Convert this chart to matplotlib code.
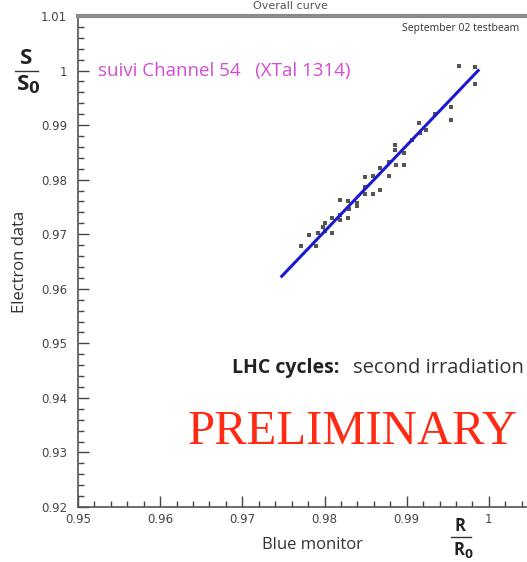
import matplotlib
matplotlib.use('Agg')
import matplotlib.pyplot as plt
from matplotlib.lines import Line2D
from matplotlib.ticker import MultipleLocator, FixedLocator
import numpy as np

# data
blue_monitor = [0.9964, 0.9983, 0.9983, 0.9954, 0.9954, 0.9935, 0.9915, 0.9924,
                0.9916, 0.9907, 0.9886, 0.9886, 0.9897, 0.9887, 0.9897, 0.9878,
                0.9867, 0.9878, 0.9849, 0.9859, 0.9849, 0.9849, 0.9859, 0.9867,
                0.9839, 0.9839, 0.9829, 0.9819, 0.9830, 0.9829, 0.9819, 0.9819,
                0.9809, 0.9800, 0.9800, 0.9809, 0.9792, 0.9781, 0.9790, 0.9772,
                0.9798]
electron_data = [1.0009, 1.0007, 0.9975, 0.9933, 0.9910, 0.9920, 0.9903, 0.9891,
                 0.9886, 0.9873, 0.9863, 0.9855, 0.9848, 0.9827, 0.9827, 0.9833,
                 0.9821, 0.9807, 0.9804, 0.9807, 0.9787, 0.9774, 0.9774, 0.9781,
                 0.9757, 0.9752, 0.9760, 0.9763, 0.9746, 0.9729, 0.9736, 0.9726,
                 0.9729, 0.9720, 0.9705, 0.9702, 0.9703, 0.9698, 0.9678, 0.9678,
                 0.9714]
fit_x = [0.9748, 0.9987]
fit_y = [0.9623, 1.0000]

xticks = [0.95, 0.96, 0.97, 0.98, 0.99, 1.0]
xtick_labels = ['0.95', '0.96', '0.97', '0.98', '0.99', '1']
yticks = [0.92, 0.93, 0.94, 0.95, 0.96, 0.97, 0.98, 0.99, 1.0, 1.01]
ytick_labels = ['0.92', '0.93', '0.94', '0.95', '0.96', '0.97', '0.98', '0.99', '1', '1.01']

W, H = 527, 562
fig = plt.figure(figsize=(W / 100, H / 100), dpi=100)
# axes run past the right edge of the picture (cropped original)
AW, AH = 493, 491
ax = fig.add_axes([78 / W, 1 - 507 / H, AW / W, AH / H])
ax.set_xlim(0.95, 1.01)
ax.set_ylim(0.92, 1.01)

ax.plot(blue_monitor, electron_data, 's', ms=2.3, color='#555555', mew=0)
ax.plot(fit_x, fit_y, '-', color='#1a1ad2', lw=2.2)

ax.xaxis.set_major_locator(FixedLocator(xticks))
ax.set_xticklabels(xtick_labels)
ax.yaxis.set_major_locator(FixedLocator(yticks))
ax.set_yticklabels(ytick_labels)
ax.xaxis.set_minor_locator(MultipleLocator(0.002))
ax.yaxis.set_minor_locator(MultipleLocator(0.002))
ax.tick_params(which='both', direction='in', top=False, right=False,
               color='#444444', width=1)
ax.tick_params(which='major', length=8, labelsize=8.5, colors='#444444')
ax.tick_params(which='minor', length=4)
ax.tick_params(axis='x', pad=4)
ax.tick_params(axis='y', pad=8)
ax.spines['right'].set_visible(False)
ax.spines['top'].set_color('#8a8a8a')
ax.spines['top'].set_linewidth(3)
ax.spines['left'].set_color('#555555')
ax.spines['bottom'].set_color('#555555')
ax.spines['left'].set_linewidth(1.2)
ax.spines['bottom'].set_linewidth(1.2)

ax.set_ylabel('Electron data', fontsize=12, family='Open Sans', color='#333333')
ax.set_xlabel('Blue monitor', fontsize=12, family='Open Sans', color='#333333')
ax.xaxis.set_label_coords((312 - 78) / AW, -(545 - 507) / AH)
ax.yaxis.set_label_coords(-(78 - 20) / AW, (507 - 262) / AH)
ax.xaxis.label.set_va('center')
ax.yaxis.label.set_va('center')

# title, cut by the top of the original picture
fig.text(290 / W, 1 - 1 / H, 'Overall curve', ha='center', va='top',
         fontsize=8, color='#555555')

# S/S0 and R/R0 fractions
fig.text(26 / W, 1 - 58 / H, 'S', ha='center', va='center', fontsize=16,
         fontweight='bold', family='Open Sans', color='#222222')
fig.add_artist(Line2D([15 / W, 38 / W], [1 - 71 / H, 1 - 71 / H], color='#333333', lw=1))
fig.text(28 / W, 1 - 85 / H, r'S$_{\mathbf{0}}$', ha='center', va='center', fontsize=16,
         fontweight='bold', family='Open Sans', color='#222222')
fig.text(460 / W, 1 - 526 / H, 'R', ha='center', va='center', fontsize=12,
         fontweight='bold', family='Open Sans', color='#222222')
fig.add_artist(Line2D([451 / W, 471 / W], [1 - 537 / H, 1 - 537 / H], color='#333333', lw=1))
fig.text(463 / W, 1 - 550 / H, r'R$_{\mathbf{0}}$', ha='center', va='center', fontsize=12,
         fontweight='bold', family='Open Sans', color='#222222')

fig.text(98 / W, 1 - 71 / H, 'suivi Channel 54   (XTal 1314)', ha='left', va='center',
         fontsize=13.5, color='#d44bd4', family='Open Sans')
fig.text(519 / W, 1 - 29 / H, 'September 02 testbeam', ha='right', va='center',
         fontsize=7.5, color='#333333', family='Open Sans')
fig.text(232 / W, 1 - 368 / H, 'LHC cycles:', ha='left', va='center',
         fontsize=14, fontweight='bold', color='#222222', family='Open Sans')
fig.text(353 / W, 1 - 368 / H, 'second irradiation', ha='left', va='center',
         fontsize=14.5, color='#333333', family='Open Sans')
fig.text(188 / W, 1 - 432 / H, 'PRELIMINARY', ha='left', va='center',
         fontsize=35, color='#ff2a14', family='Liberation Serif')

fig.savefig('out.png', dpi=100)
